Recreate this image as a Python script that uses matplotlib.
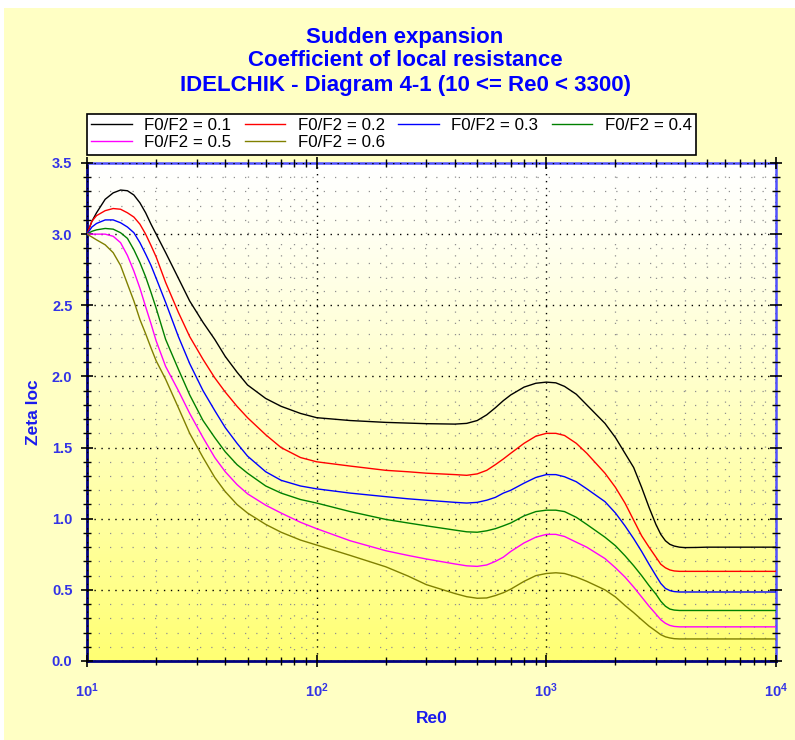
import numpy as np
import matplotlib
matplotlib.use("Agg")
import matplotlib.pyplot as plt
from matplotlib.ticker import LogLocator, MultipleLocator, FormatStrFormatter, NullFormatter
from matplotlib.patches import Rectangle

# Re0 values the curves were read at
re0 = [10, 10.5, 11, 12, 13, 14, 15, 16, 17, 18, 19, 20, 22, 25, 28, 32, 36, 40, 45, 50,
       60, 70, 85, 100, 140, 200, 250, 300, 400, 450, 500, 550, 600, 650, 700, 800, 900, 1000,
       1100, 1200, 1350, 1500, 1800, 2000, 2200, 2400, 2600, 2800, 3000, 3150, 3300, 3450, 3600,
       3800, 4000, 4500, 5000, 7000, 10000]

# zeta loc for each F0/F2 ratio
zeta_01 = [3.00, 3.09, 3.15, 3.245, 3.29, 3.31, 3.305, 3.275, 3.22, 3.15, 3.07, 3.00, 2.87, 2.69, 2.53, 2.38, 2.26, 2.14, 2.03, 1.94,
           1.845, 1.79, 1.74, 1.71, 1.69, 1.677, 1.672, 1.668, 1.665, 1.67, 1.69, 1.73, 1.78, 1.83, 1.87, 1.925, 1.952, 1.96,
           1.955, 1.93, 1.875, 1.80, 1.67, 1.57, 1.46, 1.36, 1.22, 1.08, 0.96, 0.89, 0.845, 0.82, 0.808,
           0.80, 0.797, 0.798, 0.80, 0.80, 0.80]
zeta_02 = [3.00, 3.09, 3.13, 3.165, 3.18, 3.175, 3.15, 3.12, 3.07, 3.00, 2.92, 2.84, 2.66, 2.45, 2.28, 2.12, 1.99, 1.89, 1.79, 1.71,
           1.59, 1.50, 1.43, 1.40, 1.37, 1.34, 1.33, 1.32, 1.31, 1.305, 1.315, 1.34, 1.38, 1.42, 1.46, 1.53, 1.58, 1.60,
           1.60, 1.585, 1.53, 1.46, 1.32, 1.22, 1.11, 0.99, 0.88, 0.80, 0.73, 0.68, 0.655, 0.64, 0.633,
           0.63, 0.63, 0.63, 0.63, 0.63, 0.63]
zeta_03 = [3.00, 3.05, 3.075, 3.10, 3.10, 3.08, 3.05, 3.01, 2.94, 2.86, 2.78, 2.69, 2.52, 2.28, 2.09, 1.90, 1.76, 1.64, 1.53, 1.44,
           1.33, 1.27, 1.23, 1.21, 1.18, 1.155, 1.14, 1.13, 1.115, 1.11, 1.115, 1.13, 1.15, 1.18, 1.20, 1.25, 1.29, 1.31,
           1.31, 1.295, 1.26, 1.21, 1.12, 1.04, 0.95, 0.86, 0.77, 0.68, 0.60, 0.545, 0.51, 0.495, 0.488,
           0.485, 0.485, 0.485, 0.485, 0.485, 0.485]
zeta_04 = [3.00, 3.02, 3.03, 3.04, 3.035, 3.01, 2.97, 2.89, 2.80, 2.70, 2.59, 2.48, 2.26, 2.05, 1.87, 1.69, 1.57, 1.47, 1.38, 1.32,
           1.23, 1.18, 1.135, 1.11, 1.05, 0.995, 0.97, 0.95, 0.92, 0.908, 0.905, 0.915, 0.93, 0.95, 0.97, 1.02, 1.05, 1.06,
           1.06, 1.05, 1.01, 0.96, 0.87, 0.81, 0.74, 0.67, 0.60, 0.53, 0.47, 0.42, 0.385, 0.365, 0.358,
           0.355, 0.355, 0.355, 0.355, 0.355, 0.355]
zeta_05 = [3.00, 3.00, 3.00, 3.00, 2.985, 2.94, 2.85, 2.74, 2.62, 2.49, 2.37, 2.25, 2.07, 1.90, 1.74, 1.57, 1.43, 1.33, 1.24, 1.175,
           1.095, 1.04, 0.975, 0.93, 0.845, 0.775, 0.742, 0.717, 0.682, 0.669, 0.665, 0.675, 0.70, 0.73, 0.77, 0.83, 0.87, 0.89,
           0.89, 0.875, 0.835, 0.80, 0.72, 0.655, 0.59, 0.52, 0.45, 0.385, 0.33, 0.29, 0.265, 0.25, 0.243,
           0.24, 0.24, 0.24, 0.24, 0.24, 0.24]
zeta_06 = [3.00, 2.98, 2.96, 2.925, 2.87, 2.78, 2.65, 2.53, 2.40, 2.30, 2.20, 2.11, 1.98, 1.78, 1.60, 1.43, 1.29, 1.19, 1.10, 1.04,
           0.96, 0.905, 0.85, 0.815, 0.742, 0.662, 0.597, 0.537, 0.474, 0.452, 0.441, 0.443, 0.46, 0.48, 0.505, 0.56, 0.60, 0.615,
           0.62, 0.615, 0.59, 0.56, 0.50, 0.45, 0.39, 0.34, 0.29, 0.245, 0.21, 0.185, 0.17, 0.162, 0.157,
           0.155, 0.155, 0.155, 0.155, 0.155, 0.155]

labels = ["F0/F2 = 0.1", "F0/F2 = 0.2", "F0/F2 = 0.3", "F0/F2 = 0.4", "F0/F2 = 0.5", "F0/F2 = 0.6"]
colors = ["#000000", "#ff0000", "#0000ff", "#008000", "#ff00ff", "#808000"]
series = [zeta_01, zeta_02, zeta_03, zeta_04, zeta_05, zeta_06]

plt.rcParams['font.family'] = ['Liberation Sans', 'DejaVu Sans']

fig = plt.figure(figsize=(7.95, 7.40), dpi=100, facecolor="#ffffc4")
# white strip on top / left edge as in the screenshot
fig.patches.append(Rectangle((0, 1 - 8/740), 1, 8/740, transform=fig.transFigure,
                             facecolor="white", edgecolor="none", zorder=-5))
fig.patches.append(Rectangle((0, 0), 4/795, 1, transform=fig.transFigure,
                             facecolor="white", edgecolor="none", zorder=-5))

ax = fig.add_axes([87/795, 1 - 661/740, (776-87)/795, (661-163)/740])
ax.set_xscale("log")
ax.set_xlim(10, 10000)
ax.set_ylim(0, 3.5)

# background gradient white -> yellow
grad = np.linspace(0, 1, 256).reshape(-1, 1)
grad_img = np.ones((256, 1, 3))
grad_img[:, 0, 2] = 1.0 - 0.55 * grad[:, 0] ** 1.2
ax.imshow(grad_img, extent=[0, 1, 0, 1], transform=ax.transAxes, aspect="auto",
          origin="upper", zorder=0, interpolation="bilinear")

lines = []
for ys, col, lab in zip(series, colors, labels):
    ln, = ax.plot(re0, ys, color=col, lw=1.0, label=lab, zorder=3)
    lines.append(ln)

# grids
ax.grid(which="major", color="black", linestyle=(0, (1, 4)), linewidth=1.0, zorder=1)
ax.grid(which="minor", color="#909090", linestyle=(0, (1, 8)), linewidth=0.9, zorder=1)
ax.set_axisbelow(False)

ax.xaxis.set_major_locator(LogLocator(base=10, numticks=10))
ax.xaxis.set_minor_locator(LogLocator(base=10, subs=np.arange(2, 10), numticks=20))
ax.xaxis.set_minor_formatter(NullFormatter())
ax.yaxis.set_major_locator(MultipleLocator(0.5))
ax.yaxis.set_minor_locator(MultipleLocator(0.1))
ax.yaxis.set_major_formatter(FormatStrFormatter("%.1f"))

lab_col = "#3333e6"
ax.tick_params(which="major", direction="inout", length=9, width=1.2, color="black",
               labelcolor=lab_col, labelsize=10.5, pad=6)
ax.tick_params(which="minor", direction="inout", length=6, width=1.0, color="black")
ax.tick_params(axis="x", which="major", pad=10)
ax.tick_params(top=True, right=True, which="both")
for t in ax.get_xticklabels() + ax.get_yticklabels():
    t.set_fontweight("bold")

for s in ["left", "bottom"]:
    ax.spines[s].set_color("#000080")
    ax.spines[s].set_linewidth(2.0)
for s in ["top", "right"]:
    ax.spines[s].set_color("#5050ff")
    ax.spines[s].set_linewidth(1.8)

ax.set_xlabel("Re0", color="#1a1aee", fontsize=12.5, fontweight="bold", labelpad=8)
ax.set_ylabel("Zeta loc", color="#1a1aee", fontsize=12.5, fontweight="bold", labelpad=8)

title_x = 405/795
fig.text(title_x, 1 - 37/740, "Sudden expansion", ha="center", va="center",
         color="#0000ff", fontsize=16, fontweight="bold")
fig.text(title_x, 1 - 61/740, "Coefficient of local resistance", ha="center", va="center",
         color="#0000ff", fontsize=16, fontweight="bold")
fig.text(title_x, 1 - 86/740, "IDELCHIK - Diagram 4-1 (10 <= Re0 < 3300)", ha="center", va="center",
         color="#0000ff", fontsize=16, fontweight="bold")

# legend filled row-wise: 0.1 0.2 0.3 0.4 / 0.5 0.6
order = [0, 4, 1, 5, 2, 3]
leg = fig.legend([lines[i] for i in order], [labels[i] for i in order], ncol=4,
                 loc="upper left", bbox_to_anchor=(87/795, 1 - 114/740),
                 borderaxespad=0, fancybox=False, framealpha=1,
                 edgecolor="black", fontsize=12.2, handlelength=2.4, handletextpad=0.72,
                 borderpad=0.25, labelspacing=0.12, columnspacing=0.8)
leg.get_frame().set_linewidth(1.2)

plt.savefig("out.png", dpi=100, facecolor=fig.get_facecolor())
